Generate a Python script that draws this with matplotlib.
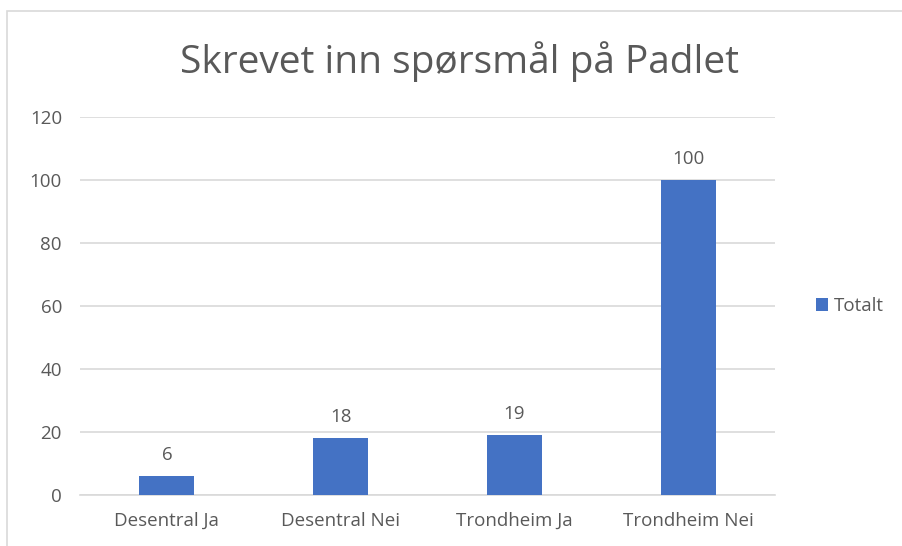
import matplotlib
matplotlib.use("Agg")
import matplotlib.pyplot as plt
from matplotlib.patches import Rectangle

# data
categories = ["Desentral Ja", "Desentral Nei", "Trondheim Ja", "Trondheim Nei"]
values = [6, 18, 19, 100]
series_name = "Totalt"
yticks = [0, 20, 40, 60, 80, 100, 120]

plt.rcParams['font.family'] = ['Open Sans', 'DejaVu Sans']
text_col = "#595959"
bar_col = "#4472C4"
grid_col = "#D9D9D9"

fig = plt.figure(figsize=(9.02, 5.46), dpi=100)
fig.patch.set_facecolor("white")

# chart area border (cut off at right/bottom like the screenshot)
fig.patches.append(Rectangle((7 / 902, -0.1), 1.2, 0.1 + 1 - 11 / 546,
                             transform=fig.transFigure, fill=False,
                             edgecolor=grid_col, linewidth=1.2))

ax = fig.add_axes([80 / 902, 1 - 495 / 546, 695 / 902, 378 / 546])
x = list(range(len(categories)))
bars = ax.bar(x, values, width=0.316, color=bar_col, label=series_name, zorder=3)

ax.set_xlim(-0.5, len(categories) - 0.5)
ax.set_ylim(0, 120)
ax.set_yticks(yticks)
ax.set_xticks(x)
ax.set_xticklabels(categories)
ax.yaxis.grid(True, color=grid_col, linewidth=1.2, zorder=0)
for s in ["top", "right", "left"]:
    ax.spines[s].set_visible(False)
ax.spines["bottom"].set_color(grid_col)
ax.spines["bottom"].set_linewidth(1.2)
ax.tick_params(length=0, labelsize=13.5, colors=text_col)
ax.tick_params(axis="y", pad=13)
ax.tick_params(axis="x", pad=12)

for b, v in zip(bars, values):
    ax.annotate(str(v), (b.get_x() + b.get_width() / 2, v), xytext=(0, 9),
                textcoords="offset points", ha="center", va="bottom",
                fontsize=13.5, color=text_col)

fig.text(460 / 902, 1 - 62 / 546, "Skrevet inn spørsmål på Padlet",
         ha="center", va="center", fontsize=28, color=text_col)

leg = ax.legend(loc="center left", bbox_to_anchor=(1.035, 0.5), frameon=False,
                fontsize=13.5, handlelength=0.65, handleheight=0.65,
                handletextpad=0.3, labelcolor=text_col)

fig.savefig("out.png", dpi=100)
